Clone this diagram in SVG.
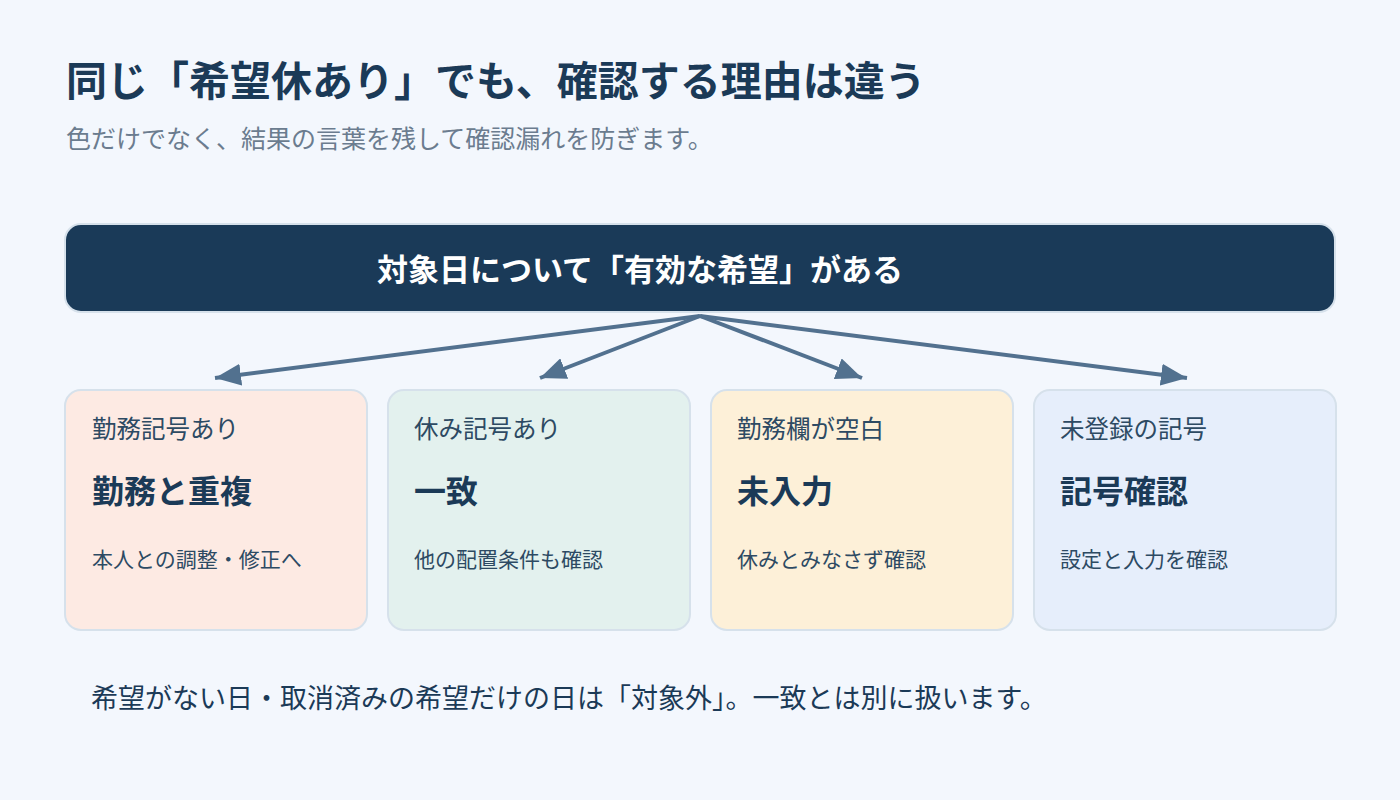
<svg xmlns="http://www.w3.org/2000/svg" width="1400" height="800" viewBox="0 0 1400 800">
<defs>
<marker id="ah" markerUnits="userSpaceOnUse" markerWidth="28" markerHeight="22" refX="26" refY="11" orient="auto">
<path d="M0,0 L26,11 L0,22 z" fill="#52718f"/>
</marker>
<style>
text{font-family:"Noto Sans CJK JP","Noto Sans",sans-serif;}
.title{font-size:41px;font-weight:700;fill:#1b3a57;}
.sub{font-size:25px;fill:#6b7c8f;}
.bartext{font-size:31px;font-weight:700;fill:#ffffff;}
.card{stroke:#d6e1eb;stroke-width:2;}
.lab{font-size:24.5px;fill:#2d4a63;}
.head{font-size:32px;font-weight:700;fill:#1b3a57;}
.det{font-size:21px;fill:#2d4a63;}
.foot{font-size:27px;fill:#1b3a57;}
.conn{stroke:#52718f;stroke-width:4;fill:none;marker-end:url(#ah);}
</style>
</defs>
<rect x="0" y="0" width="1400" height="800" fill="#f3f7fd"/>
<text class="title" x="66" y="96">同じ「希望休あり」でも、確認する理由は違う</text>
<text class="sub" x="66" y="148">色だけでなく、結果の言葉を残して確認漏れを防ぎます。</text>
<g id="top">
<rect x="65" y="224" width="1270" height="88" rx="16" fill="#1a3a58" stroke="#d6e1eb" stroke-width="2"/>
<text class="bartext" x="640" y="281" text-anchor="middle">対象日について「有効な希望」がある</text>
</g>
<g id="connectors">
<line class="conn" x1="700" y1="316" x2="215" y2="378"/>
<line class="conn" x1="700" y1="316" x2="540" y2="378"/>
<line class="conn" x1="700" y1="316" x2="862" y2="378"/>
<line class="conn" x1="700" y1="316" x2="1187" y2="378"/>
</g>
<g id="card1">
<rect class="card" x="65" y="390" width="302" height="240" rx="16" fill="#fdeae3"/>
<text class="lab" x="92" y="438">勤務記号あり</text>
<text class="head" x="92" y="503">勤務と重複</text>
<text class="det" x="92" y="567">本人との調整・修正へ</text>
</g>
<g id="card2">
<rect class="card" x="388" y="390" width="302" height="240" rx="16" fill="#e3f1ee"/>
<text class="lab" x="414" y="438">休み記号あり</text>
<text class="head" x="414" y="503">一致</text>
<text class="det" x="414" y="567">他の配置条件も確認</text>
</g>
<g id="card3">
<rect class="card" x="711" y="390" width="302" height="240" rx="16" fill="#fdf0d8"/>
<text class="lab" x="737" y="438">勤務欄が空白</text>
<text class="head" x="737" y="503">未入力</text>
<text class="det" x="737" y="567">休みとみなさず確認</text>
</g>
<g id="card4">
<rect class="card" x="1034" y="390" width="302" height="240" rx="16" fill="#e6eefb"/>
<text class="lab" x="1060" y="438">未登録の記号</text>
<text class="head" x="1060" y="503">記号確認</text>
<text class="det" x="1060" y="567">設定と入力を確認</text>
</g>
<text class="foot" x="91" y="708">希望がない日・取消済みの希望だけの日は「対象外」。一致とは別に扱います。</text>
</svg>
